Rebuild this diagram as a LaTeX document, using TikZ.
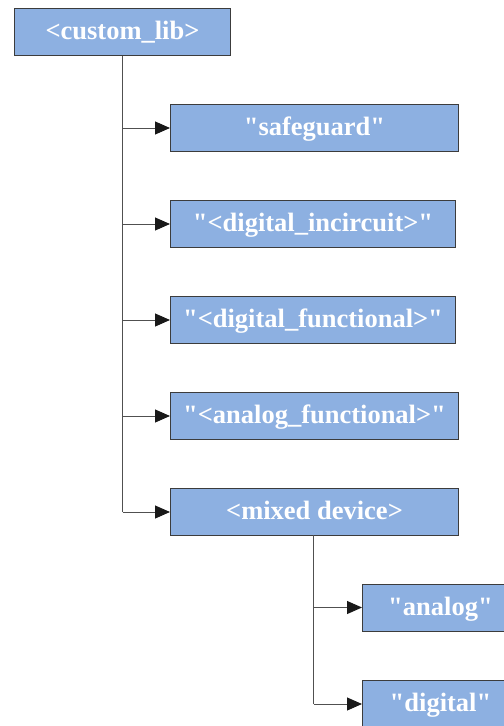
\documentclass[tikz,border=0pt]{standalone}
\usepackage{fontspec}
% no TeX ligatures, so that " stays a straight double quote
\setmainfont{Liberation Serif}[Ligatures=TeXOff]
\usetikzlibrary{arrows.meta}
\definecolor{boxfill}{RGB}{141,176,225}
\definecolor{boxline}{RGB}{60,60,60}
\definecolor{wire}{RGB}{80,80,80}
\definecolor{tipcol}{RGB}{25,25,25}
\tikzset{
  libbox/.style={draw=boxline, line width=1bp, fill=boxfill, text=white,
    font=\bfseries\fontsize{26.5bp}{30bp}\selectfont,
    text height=19bp, text depth=4bp, inner sep=0pt,
    minimum height=47bp, anchor=north west},
  wirebranch/.style={draw=wire, line width=1bp,
    -{Triangle[length=15bp,width=13bp,color=tipcol]}},
  wiretrunk/.style={draw=wire, line width=1bp}
}
\begin{document}
\begin{tikzpicture}[x=1bp,y=-1bp]
\useasboundingbox (0,0) rectangle (504,726);

% top level library
\node[libbox, minimum width=216bp] (lib) at (14,8) {<custom\_lib>};

% first level entries
\node[libbox, minimum width=288bp] (safe) at (170,104) {"safeguard"};
\node[libbox, minimum width=285bp] (dinc) at (170,200) {"<digital\_incircuit>"};
\node[libbox, minimum width=285bp] (dfun) at (170,296) {"<digital\_functional>"};
\node[libbox, minimum width=288bp] (afun) at (170,392) {"<analog\_functional>"};
\node[libbox, minimum width=288bp] (mixd) at (170,488) {<mixed device>};

% second level entries
\node[libbox, minimum width=156bp] (ana) at (362,583.5) {"analog"};
\node[libbox, minimum width=156bp] (dig) at (362,680) {"digital"};

% trunk under the library
\draw[wiretrunk] (lib.south) -- (lib.south |- mixd.west);
\foreach \n in {safe,dinc,dfun,afun,mixd}
  \draw[wirebranch] (lib.south |- \n.west) -- (\n.west);

% trunk under the mixed device
\coordinate (m0) at (313.5,535);
\draw[wiretrunk] (m0) -- (m0 |- dig.west);
\foreach \n in {ana,dig}
  \draw[wirebranch] (m0 |- \n.west) -- (\n.west);
\end{tikzpicture}
\end{document}
